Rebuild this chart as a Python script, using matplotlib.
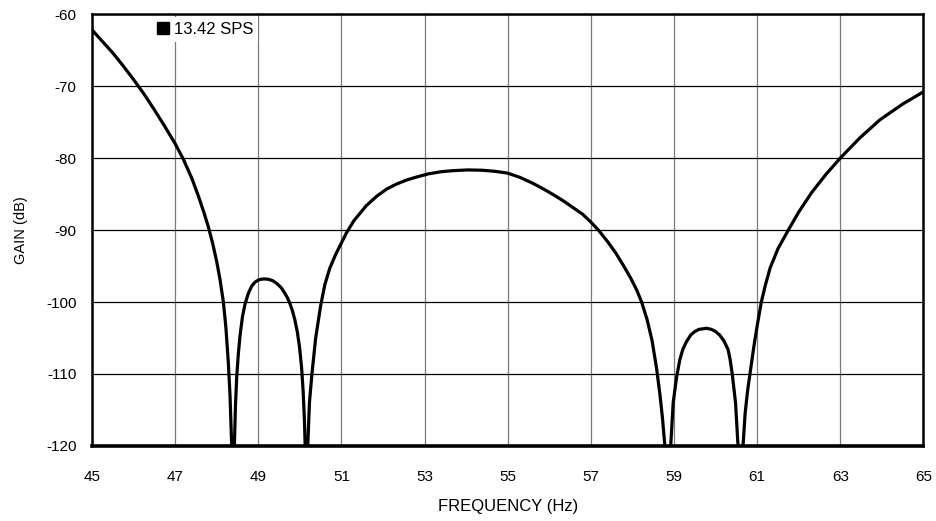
import numpy as np
import matplotlib
matplotlib.use("Agg")
import matplotlib.pyplot as plt

# === values (frequency in Hz, gain in dB) ===
# nulls go to -inf in the original; they are drawn as deep points and clipped at -120
freq_hz = [45.0, 45.25, 45.5, 45.75, 46.0, 46.25, 46.5, 46.75, 47.0, 47.2, 47.4, 47.56,
           47.7, 47.8, 47.9, 48.0, 48.08, 48.16, 48.22, 48.28, 48.32, 48.36, 48.40,
           48.42, 48.45, 48.48, 48.52, 48.56, 48.62, 48.68, 48.76, 48.84, 48.92, 49.0, 49.08, 49.16,
           49.25, 49.35, 49.45, 49.55, 49.63, 49.70, 49.76, 49.82, 49.88, 49.94, 49.99, 50.04,
           50.08, 50.11, 50.13, 50.15,
           50.19, 50.23, 50.29, 50.38, 50.50, 50.60, 50.72, 50.86, 51.0, 51.12, 51.3, 51.6,
           51.85, 52.09, 52.33, 52.57, 52.83, 53.09, 53.4, 53.69, 54.05, 54.4, 54.7, 55.0,
           55.3, 55.6, 55.86, 56.1, 56.35, 56.6, 56.8, 57.0, 57.18, 57.4, 57.6, 57.78,
           57.95, 58.1, 58.22, 58.35, 58.47, 58.58, 58.66, 58.72, 58.78, 58.85,
           58.92, 58.98, 59.06, 59.14, 59.21, 59.3, 59.4, 59.5, 59.6, 59.78, 59.9, 60.0,
           60.1, 60.2, 60.3, 60.35, 60.40, 60.48, 60.54, 60.60,
           60.66, 60.71, 60.77, 60.84, 60.92, 61.0, 61.1, 61.2, 61.31, 61.5, 61.75, 62.0, 62.31,
           62.65, 63.0, 63.47, 63.95, 64.5, 65.0]
gain_db = [-62.2, -63.8, -65.4, -67.2, -69.1, -71.1, -73.3, -75.6, -78.0, -80.2, -82.8, -85.3,
           -87.7, -89.6, -91.8, -94.4, -96.9, -100.0, -103.5, -108.5, -113.0, -120.0, -140.0,
           -121.0, -114.5, -110.5, -107.2, -104.7, -102.0, -100.3, -98.8, -97.8, -97.25, -96.95, -96.82, -96.8,
           -96.85, -97.05, -97.45, -98.0, -98.7, -99.4, -100.2, -101.2, -102.5, -104.2, -106.2, -109.0,
           -112.5, -116.5, -120.5, -140.0,
           -120.0, -114.0, -110.0, -105.0, -100.5, -97.6, -95.3, -93.4, -91.8, -90.4, -88.7, -86.6,
           -85.3, -84.3, -83.6, -83.05, -82.6, -82.2, -81.9, -81.75, -81.65, -81.7, -81.85, -82.1,
           -82.7, -83.5, -84.3, -85.1, -86.0, -87.0, -87.8, -88.9, -90.0, -91.6, -93.2, -94.9,
           -96.6, -98.3, -100.0, -102.4, -105.3, -109.2, -112.8, -116.0, -120.0, -140.0,
           -120.0, -114.0, -110.5, -108.0, -106.6, -105.5, -104.6, -104.1, -103.8, -103.65, -103.8, -104.1,
           -104.6, -105.4, -106.6, -108.0, -110.0, -114.0, -120.0, -140.0,
           -120.0, -115.5, -112.3, -109.5, -106.2, -103.3, -100.0, -97.6, -95.3, -92.6, -90.0, -87.5, -84.8,
           -82.3, -80.0, -77.2, -74.7, -72.5, -70.8]

x_ticks = [45, 47, 49, 51, 53, 55, 57, 59, 61, 63, 65]
y_ticks = [-60, -70, -80, -90, -100, -110, -120]
series_label = "13.42 SPS"

plt.rcParams["font.family"] = ["Liberation Sans", "DejaVu Sans"]
plt.rcParams["axes.unicode_minus"] = False

fig = plt.figure(figsize=(9.36, 5.21), dpi=100)
ax = fig.add_axes([0.0983, 0.144, 0.8883, 0.829])

ax.plot(freq_hz, gain_db, color="black", lw=2.3, label=series_label,
        solid_joinstyle="round", zorder=3)

ax.set_xlim(45, 65)
ax.set_ylim(-120, -60)
ax.set_xticks(x_ticks)
ax.set_yticks(y_ticks)
ax.tick_params(axis="both", length=0, labelsize=11)
ax.tick_params(axis="x", pad=17)
ax.tick_params(axis="y", pad=11)

ax.xaxis.grid(True, color="#7a7a7a", lw=0.9)
ax.yaxis.grid(True, color="black", lw=0.9)
ax.set_axisbelow(True)

for side in ["top", "left", "right"]:
    ax.spines[side].set_linewidth(1.8)
ax.spines["bottom"].set_linewidth(2.6)

ax.set_xlabel("FREQUENCY (Hz)", fontsize=12, labelpad=11)
ax.set_ylabel("GAIN (dB)", fontsize=10.5, labelpad=13)

# legend: black square marker + label, white box without border
handle = plt.Line2D([], [], marker="s", color="black", linestyle="none", markersize=9)
leg = ax.legend([handle], [series_label], loc="upper left", bbox_to_anchor=(0.0685, 1.0),
                frameon=True, fancybox=False, framealpha=1, edgecolor="none",
                fontsize=12, handlelength=0.8, handletextpad=0.25, borderpad=0.3,
                borderaxespad=0.15)
leg.set_zorder(5)

fig.savefig("out.png", dpi=100)
